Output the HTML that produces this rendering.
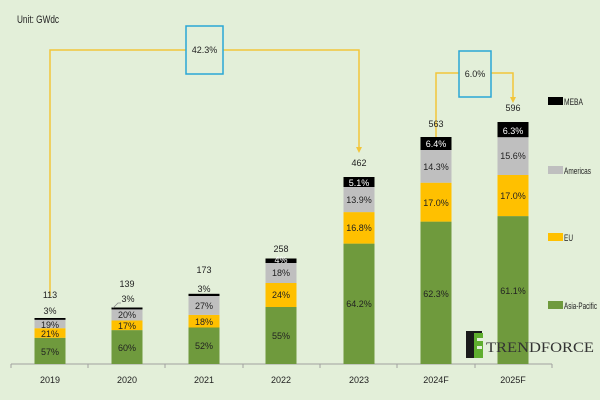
<!DOCTYPE html>
<html><head><meta charset="utf-8"><style>
html,body{margin:0;padding:0;background:#e3efd9;}
svg{display:block}
text{font-family:"Liberation Sans",sans-serif;font-size:9px;fill:#222;}
text.w{fill:#fff;}
</style></head><body>
<svg width="600" height="400" viewBox="0 0 600 400" xmlns="http://www.w3.org/2000/svg">
<rect width="600" height="400" fill="#e3efd9"/>
<text x="17" y="23" style="font-size:11px" textLength="42" lengthAdjust="spacingAndGlyphs">Unit: GWdc</text>

<g stroke="#f2c53a" stroke-width="1.5" fill="none">
<polyline points="50,296 50,50 186,50"/>
<polyline points="223,50 359,50 359,148"/>
<polyline points="436,146 436,73 459,73"/>
<polyline points="491,73 513,73 513,98"/>
</g>
<polygon points="356,147 362,147 359,153" fill="#f2c53a"/>
<polygon points="433,145 439,145 436,151" fill="#f2c53a"/>
<polygon points="510,97 516,97 513,103" fill="#f2c53a"/>
<rect x="186" y="26" width="37" height="48" fill="#e3efd9" stroke="#2aa7d6" stroke-width="1.5"/>
<text x="204.5" y="53" text-anchor="middle">42.3%</text>
<rect x="459" y="51" width="32" height="46" fill="#e3efd9" stroke="#2aa7d6" stroke-width="1.5"/>
<text x="475" y="77" text-anchor="middle">6.0%</text>

<g stroke="#a0a0a0" stroke-width="1">
<line x1="11" y1="364" x2="552" y2="364"/>
<line x1="11" y1="364" x2="11" y2="368"/><line x1="88" y1="364" x2="88" y2="368"/>
<line x1="165" y1="364" x2="165" y2="368"/><line x1="243" y1="364" x2="243" y2="368"/>
<line x1="320" y1="364" x2="320" y2="368"/><line x1="397" y1="364" x2="397" y2="368"/>
<line x1="475" y1="364" x2="475" y2="368"/><line x1="552" y1="364" x2="552" y2="368"/>
</g>

<g>
<rect x="34.5" y="337.8" width="31" height="26.2" fill="#6f9a3d"/>
<rect x="34.5" y="328.2" width="31" height="9.6" fill="#ffc000"/>
<rect x="34.5" y="319.5" width="31" height="8.7" fill="#bfbfbf"/>
<rect x="34.5" y="318" width="31" height="1.8" fill="#000"/>
<rect x="111.5" y="330.1" width="31" height="33.9" fill="#6f9a3d"/>
<rect x="111.5" y="320.5" width="31" height="9.6" fill="#ffc000"/>
<rect x="111.5" y="309.2" width="31" height="11.3" fill="#bfbfbf"/>
<rect x="111.5" y="307.5" width="31" height="1.9" fill="#000"/>
<rect x="188.5" y="327.5" width="31" height="36.5" fill="#6f9a3d"/>
<rect x="188.5" y="314.9" width="31" height="12.6" fill="#ffc000"/>
<rect x="188.5" y="295.9" width="31" height="19" fill="#bfbfbf"/>
<rect x="188.5" y="293.8" width="31" height="2.2" fill="#000"/>
<rect x="265.5" y="307" width="31" height="57" fill="#6f9a3d"/>
<rect x="265.5" y="283" width="31" height="24" fill="#ffc000"/>
<rect x="265.5" y="263" width="31" height="20" fill="#bfbfbf"/>
<rect x="265.5" y="258.5" width="31" height="4.5" fill="#000"/>
<rect x="343.5" y="243.6" width="31" height="120.4" fill="#6f9a3d"/>
<rect x="343.5" y="212.1" width="31" height="31.5" fill="#ffc000"/>
<rect x="343.5" y="187" width="31" height="25.1" fill="#bfbfbf"/>
<rect x="343.5" y="177" width="31" height="10" fill="#000"/>
<rect x="420.5" y="221.6" width="31" height="142.4" fill="#6f9a3d"/>
<rect x="420.5" y="182.7" width="31" height="38.9" fill="#ffc000"/>
<rect x="420.5" y="150" width="31" height="32.7" fill="#bfbfbf"/>
<rect x="420.5" y="137" width="31" height="13" fill="#000"/>
<rect x="497.5" y="216.1" width="31" height="147.9" fill="#6f9a3d"/>
<rect x="497.5" y="175" width="31" height="41.1" fill="#ffc000"/>
<rect x="497.5" y="137.2" width="31" height="37.8" fill="#bfbfbf"/>
<rect x="497.5" y="122" width="31" height="15.2" fill="#000"/>
</g>

<g text-anchor="middle">
<text x="50" y="355">57%</text><text x="50" y="337">21%</text><text x="50" y="328">19%</text>
<text x="50" y="314">3%</text><text x="50" y="298">113</text>
<text x="127" y="351">60%</text><text x="127" y="329">17%</text><text x="127" y="318">20%</text>
<text x="128" y="302">3%</text><text x="127" y="287">139</text>
<text x="204" y="349">52%</text><text x="204" y="325">18%</text><text x="204" y="309">27%</text>
<text x="204" y="292">3%</text><text x="204" y="273">173</text>
<text x="281" y="339">55%</text><text x="281" y="298">24%</text><text x="281" y="276">18%</text>
<text x="281" y="263" class="w">4%</text><text x="281" y="252">258</text>
<text x="359" y="307">64.2%</text><text x="359" y="231">16.8%</text><text x="359" y="203">13.9%</text>
<text x="359" y="186" class="w">5.1%</text><text x="359" y="166">462</text>
<text x="436" y="297">62.3%</text><text x="436" y="206">17.0%</text><text x="436" y="170">14.3%</text>
<text x="436" y="147" class="w">6.4%</text><text x="436" y="127">563</text>
<text x="513" y="294">61.1%</text><text x="513" y="199">17.0%</text><text x="513" y="159">15.6%</text>
<text x="513" y="134" class="w">6.3%</text><text x="513" y="111">596</text>
</g>
<polyline points="113,308 118,303 121,303" stroke="#888" fill="none" stroke-width="0.8"/>

<g text-anchor="middle">
<text x="50" y="383">2019</text><text x="127" y="383">2020</text><text x="204" y="383">2021</text>
<text x="281" y="383">2022</text><text x="359" y="383">2023</text><text x="436" y="383">2024F</text>
<text x="513" y="383">2025F</text>
</g>

<rect x="548" y="97" width="15" height="8" fill="#000"/><text x="564" y="105" textLength="19" lengthAdjust="spacingAndGlyphs">MEBA</text>
<rect x="548" y="166" width="15" height="8" fill="#bfbfbf"/><text x="564" y="174" textLength="27" lengthAdjust="spacingAndGlyphs">Americas</text>
<rect x="548" y="233" width="15" height="8" fill="#ffc000"/><text x="564" y="241" textLength="9" lengthAdjust="spacingAndGlyphs">EU</text>
<rect x="548" y="301" width="15" height="8" fill="#6f9a3d"/><text x="564" y="309" textLength="33" lengthAdjust="spacingAndGlyphs">Asia-Pacific</text>

<polygon points="466,331 474,331 474,358 466,358" fill="#1a1a1a"/>
<polygon points="466,331 482,331 482,336 466,336" fill="#1a1a1a"/>
<rect x="474" y="333" width="9" height="25" fill="#5fae2e"/>
<rect x="477" y="338" width="6" height="3" fill="#e3efd9"/>
<rect x="477" y="346" width="5" height="3" fill="#e3efd9"/>
<text x="486" y="352" style="font-family:'Liberation Serif',serif;font-size:15px;fill:#333" textLength="108" lengthAdjust="spacingAndGlyphs">TRENDFORCE</text>
</svg>
</body></html>
